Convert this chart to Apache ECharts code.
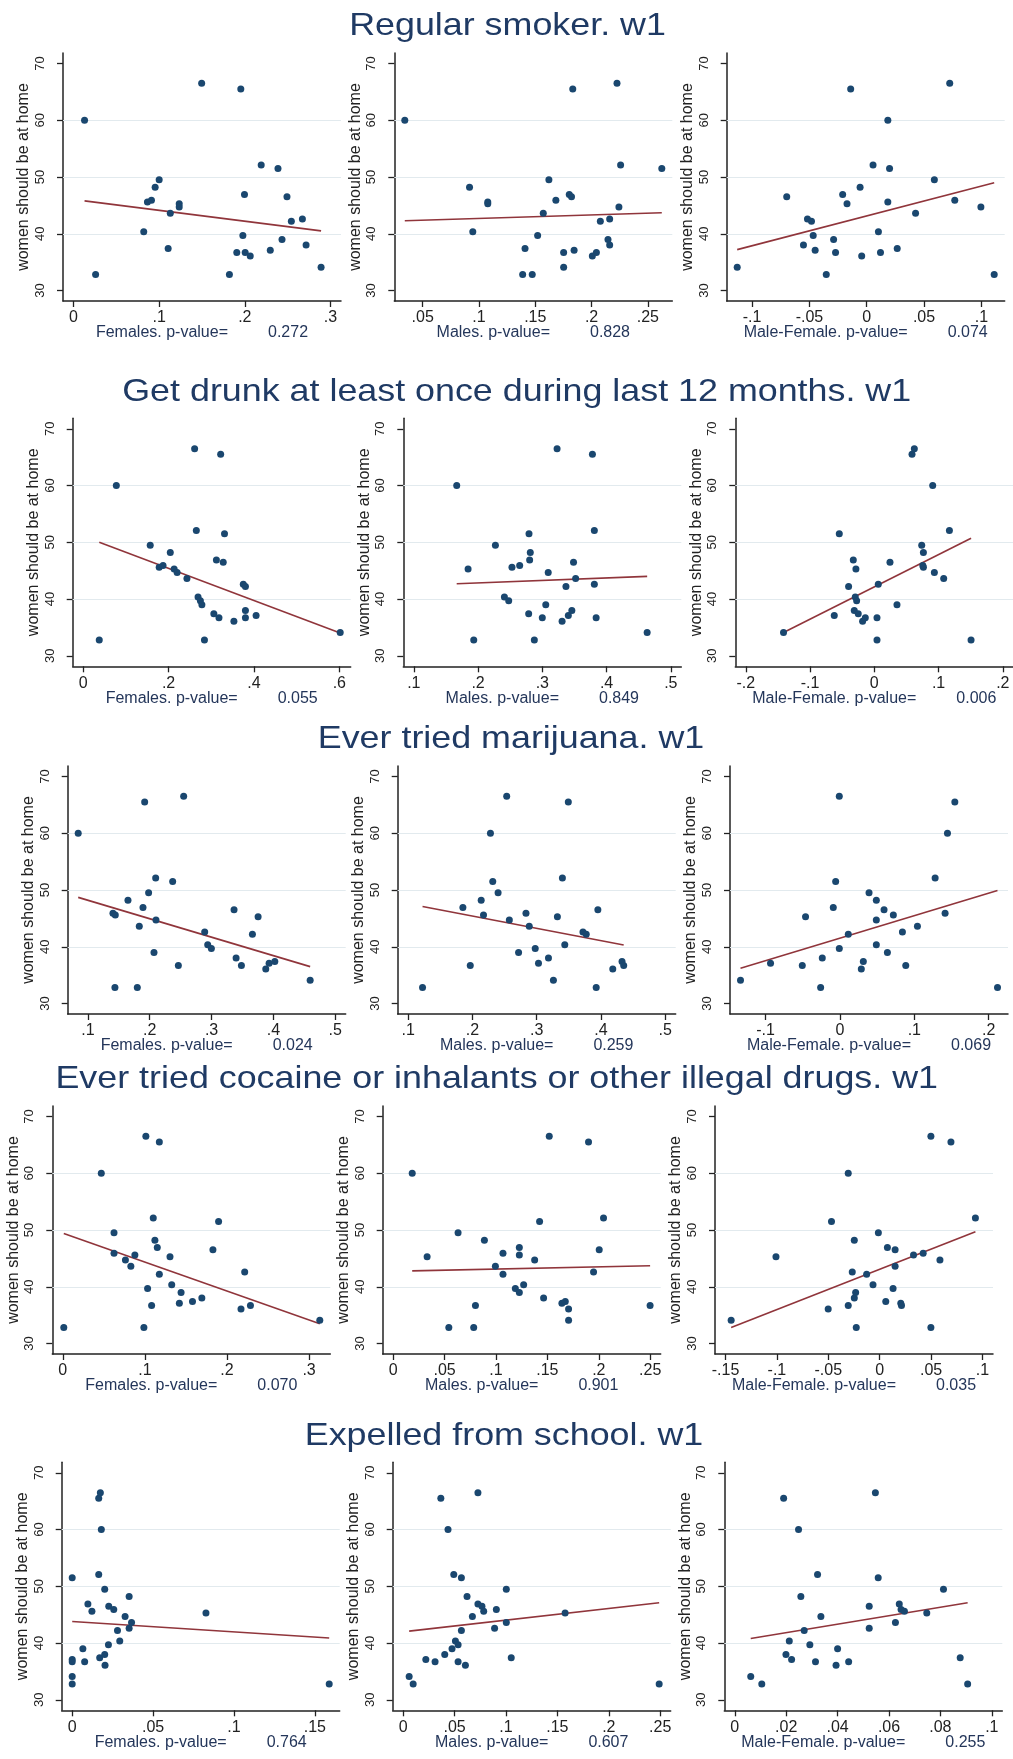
<!DOCTYPE html>
<html>
<head>
<meta charset="utf-8">
<title>women should be at home - scatter panels</title>
<script src="https://cdn.jsdelivr.net/npm/echarts@6/dist/echarts.min.js"></script>
<style>
  html, body { margin: 0; padding: 0; background: #fff; }
  #chart { width: 1013px; height: 1759px; }
</style>
</head>
<body>
<div id="chart"></div>
<script>
// y = "women should be at home", x = share of each behaviour (Females / Males / Male-Female)
var titles = [
  'Regular smoker. w1',
  'Get drunk at least once during last 12 months. w1',
  'Ever tried marijuana. w1',
  'Ever tried cocaine or inhalants or other illegal drugs. w1',
  'Expelled from school. w1'
];
var groups = ['Females', 'Males', 'Male-Female'];
var yTickLabels = ['30', '40', '50', '60', '70'];
var yGridValues = [40, 50, 60];

// ---- Regular smoker
var smokerF = [[.0129,60.0],[.0258,32.8],[.082,40.35],[.0863,45.6],[.091,45.9],[.0953,48.2],[.1,49.5],[.1105,37.4],[.113,43.6],[.1234,45.3],[.1234,44.7],[.1496,66.5],[.182,32.8],[.1906,36.7],[.1953,65.5],[.1977,39.7],[.1996,46.9],[.2004,36.7],[.2063,36.1],[.2191,52.1],[.2297,37.1],[.2387,51.5],[.2434,39.0],[.2492,46.5],[.2543,42.2],[.2672,42.6],[.2715,38.0],[.289,34.1]];
var smokerM = [[.0341,60.0],[.0916,48.2],[.0945,40.35],[.1078,45.6],[.1078,45.3],[.1409,37.4],[.1388,32.8],[.1473,32.8],[.1521,39.7],[.1571,43.6],[.1621,49.5],[.1683,45.9],[.1752,36.7],[.1752,34.1],[.1802,46.9],[.1822,46.5],[.1833,65.5],[.1845,37.1],[.2007,36.1],[.2043,36.7],[.2078,42.2],[.2146,39.0],[.2161,38.0],[.2161,42.6],[.2226,66.5],[.2243,44.7],[.2258,52.1],[.2624,51.5]];
var smokerD = [[-.113,34.1],[-.0698,46.5],[-.0552,38.0],[-.0517,42.6],[-.0482,42.2],[-.0467,39.7],[-.045,37.1],[-.0353,32.8],[-.0289,39.0],[-.0272,36.7],[-.021,46.9],[-.0172,45.3],[-.014,65.5],[-.0058,48.2],[-.0044,36.1],[.0055,52.1],[.0102,40.35],[.012,36.7],[.0184,60.0],[.0184,45.6],[.0199,51.5],[.0266,37.4],[.0426,43.6],[.059,49.5],[.0724,66.5],[.0768,45.9],[.0996,44.7],[.1112,32.8]];
var fitSmoker = [[.0129,45.8,.289,40.5],[.0341,42.3,.2624,43.7],[-.113,37.2,.1112,49.0]];
var xTicksSmoker = [['0','.1','.2','.3'],['.05','.1','.15','.2','.25'],['-.1','-.05','0','.05','.1']];
var pSmoker = ['0.272','0.828','0.074'];

// ---- Get drunk
var drunkF = [[.0376,32.8],[.0776,60.0],[.157,49.5],[.178,45.6],[.187,45.9],[.204,48.2],[.213,45.3],[.220,44.7],[.243,43.6],[.261,66.5],[.265,52.1],[.269,40.35],[.2745,39.7],[.278,39.0],[.284,32.8],[.306,37.4],[.312,46.9],[.318,36.7],[.322,65.5],[.328,46.5],[.331,51.5],[.353,36.1],[.375,42.6],[.380,42.2],[.380,38.0],[.380,36.7],[.405,37.1],[.602,34.1]];
var drunkM = [[.1668,60.0],[.1845,45.3],[.1933,32.8],[.227,49.5],[.241,40.35],[.2477,39.7],[.2528,45.6],[.2648,45.9],[.2788,37.4],[.2793,51.5],[.2813,48.2],[.2803,46.9],[.2876,32.8],[.3,36.7],[.3054,39.0],[.3092,44.7],[.323,66.5],[.3308,36.1],[.3368,42.2],[.3405,37.1],[.346,38.0],[.3486,46.5],[.3519,43.6],[.378,65.5],[.381,52.1],[.381,42.6],[.3838,36.7],[.4632,34.1]];
var drunkD = [[-.1413,34.1],[-.0623,37.1],[-.0545,51.5],[-.04,42.2],[-.0327,46.9],[-.0286,45.3],[-.0296,40.35],[-.0275,39.7],[-.0312,38.0],[-.025,37.4],[-.0182,36.1],[-.014,36.7],[.0042,36.7],[.0042,32.8],[.0062,42.6],[.0244,46.5],[.0353,39.0],[.0587,65.5],[.0623,66.5],[.0738,49.5],[.0764,48.2],[.0764,45.6],[.0755,45.9],[.0909,60.0],[.0935,44.7],[.108,43.6],[.1169,52.1],[.1506,32.8]];
var fitDrunk = [[.0376,50.0,.602,34.0],[.1668,42.7,.4632,44.0],[-.1413,34.1,.1506,50.7]];
var xTicksDrunk = [['0','.2','.4','.6'],['.1','.2','.3','.4','.5'],['-.2','-.1','0','.1','.2']];
var pDrunk = ['0.055','0.849','0.006'];

// ---- Marijuana
var marijF = [[.0843,60.0],[.1437,32.8],[.1405,45.9],[.1443,45.6],[.1648,48.2],[.1799,32.8],[.1831,43.6],[.1891,46.9],[.1918,65.5],[.1982,49.5],[.2069,39.0],[.2096,52.1],[.2101,44.7],[.2371,51.5],[.2463,36.7],[.2549,66.5],[.2889,42.6],[.2938,40.35],[.2997,39.7],[.3364,46.5],[.3397,38.0],[.3483,36.7],[.3661,42.2],[.3753,45.3],[.3877,36.1],[.3931,37.1],[.4023,37.4],[.4595,34.1]];
var marijM = [[.1223,32.8],[.1851,46.9],[.1966,36.7],[.2136,48.2],[.2172,45.6],[.228,60.0],[.2316,51.5],[.2399,49.5],[.2533,66.5],[.2574,44.7],[.2718,39.0],[.2833,45.9],[.2884,43.6],[.2977,39.7],[.3028,37.1],[.3183,38.0],[.326,34.1],[.3322,45.3],[.34,52.1],[.3437,40.35],[.3492,65.5],[.372,42.6],[.3771,42.2],[.3926,32.8],[.3952,46.5],[.4184,36.1],[.4328,37.4],[.4354,36.7]];
var marijD = [[-.1338,34.1],[-.0934,37.1],[-.0507,36.7],[-.0463,45.3],[-.026,32.8],[-.0238,38.0],[-.009,46.9],[-.0058,51.5],[-.0009,66.5],[-.0009,39.7],[.0112,42.2],[.0287,36.1],[.0314,37.4],[.0391,49.5],[.0489,48.2],[.0489,44.7],[.0489,40.35],[.0593,46.5],[.0638,39.0],[.0718,45.6],[.084,42.6],[.0885,36.7],[.1042,43.6],[.128,52.1],[.1414,45.9],[.1446,60.0],[.1545,65.5],[.2119,32.8]];
var fitMarij = [[.0843,48.7,.4595,36.5],[.1223,47.1,.4354,40.3],[-.1338,36.2,.2119,49.9]];
var xTicksMarij = [['.1','.2','.3','.4','.5'],['.1','.2','.3','.4','.5'],['-.1','0','.1','.2']];
var pMarij = ['0.024','0.259','0.069'];

// ---- Cocaine / inhalants / other drugs
var drugsF = [[.0012,32.8],[.0469,60.0],[.0624,49.5],[.0624,45.9],[.0763,44.7],[.0829,43.6],[.0878,45.6],[.0988,32.8],[.1012,66.5],[.1033,39.7],[.1082,36.7],[.1102,52.1],[.1122,48.2],[.1151,46.9],[.1176,65.5],[.1176,42.2],[.1306,45.3],[.1327,40.35],[.1441,39.0],[.142,37.1],[.158,37.4],[.1694,38.0],[.1829,46.5],[.1898,51.5],[.2171,36.1],[.2216,42.6],[.2286,36.7],[.3131,34.1]];
var drugsM = [[.0185,60.0],[.033,45.3],[.0541,32.8],[.0631,49.5],[.0783,32.8],[.08,36.7],[.0887,48.2],[.0994,43.6],[.1068,45.9],[.1068,42.2],[.1188,39.7],[.1227,39.0],[.1227,46.9],[.1227,45.6],[.1269,40.35],[.1376,44.7],[.1424,51.5],[.1463,38.0],[.1518,66.5],[.1641,37.1],[.1674,37.4],[.1706,36.1],[.1706,34.1],[.19,65.5],[.1949,42.6],[.2004,46.5],[.2046,52.1],[.2499,36.7]];
var drugsD = [[-.1445,34.1],[-.1009,45.3],[-.0501,36.1],[-.0469,51.5],[-.0306,60.0],[-.0306,36.7],[-.0267,42.6],[-.0247,48.2],[-.0247,38.0],[-.0234,39.0],[-.0228,32.8],[-.0127,42.2],[-.0065,40.35],[-.0013,49.5],[.0059,37.4],[.0075,46.9],[.015,46.5],[.013,39.7],[.015,43.6],[.0205,37.1],[.0212,36.7],[.0329,45.6],[.0423,45.9],[.0498,66.5],[.0498,32.8],[.0586,44.7],[.0693,65.5],[.0931,52.1]];
var fitDrugs = [[.0012,49.4,.3131,33.5],[.0185,42.8,.2499,43.7],[-.1445,32.8,.0931,49.7]];
var xTicksDrugs = [['0','.1','.2','.3'],['0','.05','.1','.15','.2','.25'],['-.15','-.1','-.05','0','.05','.1']];
var pDrugs = ['0.070','0.901','0.035'];

// ---- Expelled from school
var expelF = [[0,51.5],[0,37.1],[0,36.7],[0,34.1],[0,32.8],[.0066,39.0],[.0077,36.7],[.0097,46.9],[.0122,45.6],[.0164,52.1],[.0164,65.5],[.0174,66.5],[.017,37.4],[.018,60.0],[.0201,49.5],[.0201,38.0],[.0203,36.1],[.0224,39.7],[.0226,46.5],[.0257,45.9],[.028,42.2],[.0294,40.35],[.0327,44.7],[.0352,48.2],[.0352,42.6],[.0367,43.6],[.0827,45.3],[.1589,32.8]];
var expelM = [[.0058,34.1],[.0097,32.8],[.022,37.1],[.031,36.7],[.0366,65.5],[.0404,38.0],[.0436,60.0],[.0475,39.0],[.0492,52.1],[.0508,40.35],[.0534,39.7],[.0534,36.7],[.0566,51.5],[.0566,42.2],[.0605,36.1],[.0621,48.2],[.0673,44.7],[.0727,66.5],[.0727,46.9],[.0766,46.5],[.0783,45.6],[.0906,45.9],[.0889,42.6],[.1003,49.5],[.1003,43.6],[.1051,37.4],[.1575,45.3],[.249,32.8]];
var expelD = [[.0062,34.1],[.0105,32.8],[.019,65.5],[.0199,38.0],[.0212,40.35],[.0221,37.1],[.0248,60.0],[.0257,48.2],[.027,42.2],[.0292,39.7],[.0314,36.7],[.0322,52.1],[.0335,44.7],[.0394,36.1],[.04,39.0],[.0443,36.7],[.0523,46.5],[.0523,42.6],[.0547,66.5],[.0558,51.5],[.0625,43.6],[.064,46.9],[.0647,45.9],[.066,45.6],[.0747,45.3],[.0812,49.5],[.0877,37.4],[.0906,32.8]];
var fitExpel = [[0,43.8,.1589,40.9],[.0058,42.1,.249,47.1],[.0062,40.8,.0906,47.1]];
var xTicksExpel = [['0','.05','.1','.15'],['0','.05','.1','.15','.2','.25'],['0','.02','.04','.06','.08','.1']];
var pExpel = ['0.764','0.607','0.255'];

var rows = [
  { points: [smokerF, smokerM, smokerD], fit: fitSmoker, ticks: xTicksSmoker, p: pSmoker },
  { points: [drunkF, drunkM, drunkD], fit: fitDrunk, ticks: xTicksDrunk, p: pDrunk },
  { points: [marijF, marijM, marijD], fit: fitMarij, ticks: xTicksMarij, p: pMarij },
  { points: [drugsF, drugsM, drugsD], fit: fitDrugs, ticks: xTicksDrugs, p: pDrugs },
  { points: [expelF, expelM, expelD], fit: fitExpel, ticks: xTicksExpel, p: pExpel }
];

// layout (px)
var rowTop = [53, 418.3, 766, 1106, 1462.3];
var panelLeft = [[63, 394.3, 726.7], [72.7, 403.3, 735.3], [67.7, 397.7, 730], [52.3, 382.7, 715], [61.7, 392.7, 724.3]];
var titleX = [507.5, 516.7, 511, 496.7, 504];
var titleY = [25.7, 391.7, 739, 1079, 1435.7];
var PANEL_W = 278, PANEL_H = 248, PAD = 10.5;
var FONT = '"Liberation Sans", Arial, sans-serif';
var NAVY = '#1a476f', MAROON = '#90353b', INK = '#222222', TITLE = '#1f3a64';

// stata-like range: union of data and ticks, plus a fixed pixel margin
function padRange(vals, len) {
  var lo = Math.min.apply(null, vals), hi = Math.max.apply(null, vals);
  var upp = (hi - lo) / (len - 2 * PAD);
  return [lo - PAD * upp, hi + PAD * upp];
}

var grids = [], xAxes = [], yAxes = [], series = [], graphics = [];
var yTickVals = yTickLabels.map(parseFloat);

rows.forEach(function (row, r) {
  graphics.push({
    type: 'text', x: titleX[r], y: titleY[r], scaleX: 1.12,
    style: { text: titles[r], fontSize: 32, fontFamily: FONT, fill: TITLE, textAlign: 'center', textVerticalAlign: 'middle' }
  });
  for (var c = 0; c < 3; c++) {
    var idx = r * 3 + c;
    var pts = row.points[c];
    var tickLabels = row.ticks[c];
    var tickVals = tickLabels.map(parseFloat);
    var xr = padRange(pts.map(function (d) { return d[0]; }).concat(tickVals), PANEL_W);
    var yr = padRange(pts.map(function (d) { return d[1]; }).concat(yTickVals), PANEL_H);
    var f = row.fit[c];

    grids.push({ left: panelLeft[r][c], top: rowTop[r], width: PANEL_W, height: PANEL_H, containLabel: false, outerBoundsMode: 'none' });

    xAxes.push({
      gridIndex: idx, type: 'value', min: xr[0], max: xr[1],
      axisLine: { onZero: false, lineStyle: { color: INK, width: 1.5 } },
      axisTick: { show: true, customValues: tickVals, length: 6, lineStyle: { color: INK, width: 1.3 } },
      axisLabel: {
        customValues: tickVals, margin: 9, fontSize: 16, color: INK, fontFamily: FONT,
        formatter: (function (vals, labs) {
          return function (v) {
            for (var i = 0; i < vals.length; i++) if (Math.abs(vals[i] - v) < 1e-9) return labs[i];
            return '';
          };
        })(tickVals, tickLabels)
      },
      splitLine: { show: false },
      name: groups[c] + '. p-value=         ' + row.p[c],
      nameLocation: 'middle', nameGap: 24, nameMoveOverlap: false,
      nameTextStyle: { fontSize: 16, color: '#24365a', fontFamily: FONT }
    });

    yAxes.push({
      gridIndex: idx, type: 'value', min: yr[0], max: yr[1],
      axisLine: { onZero: false, lineStyle: { color: INK, width: 1.5 } },
      axisTick: { show: true, customValues: yTickVals, length: 6, lineStyle: { color: INK, width: 1.3 } },
      axisLabel: { customValues: yTickVals, rotate: 90, margin: 16, fontSize: 13, color: INK, fontFamily: FONT },
      splitLine: { show: false },
      name: 'women should be at home',
      nameLocation: 'middle', nameGap: 31, nameMoveOverlap: false,
      nameTextStyle: { fontSize: 16, color: INK, fontFamily: FONT }
    });

    // faint horizontal grid lines, kept behind everything
    series.push({
      type: 'line', xAxisIndex: idx, yAxisIndex: idx, data: [], z: 1, silent: true,
      markLine: {
        z: 1, silent: true, symbol: ['none', 'none'], label: { show: false },
        lineStyle: { color: '#e2eaee', width: 1.2, type: 'solid' },
        data: yGridValues.map(function (v) { return { yAxis: v }; })
      }
    });
    // fitted line
    series.push({
      type: 'line', xAxisIndex: idx, yAxisIndex: idx, z: 8, silent: true,
      data: [[f[0], f[1]], [f[2], f[3]]],
      symbol: 'none', lineStyle: { color: MAROON, width: 1.6 }
    });
    // points
    series.push({
      type: 'scatter', xAxisIndex: idx, yAxisIndex: idx, z: 10,
      data: pts, symbol: 'circle', symbolSize: 7,
      itemStyle: { color: NAVY, opacity: 1 }
    });
  }
});

var chart = echarts.init(document.getElementById('chart'), null, { renderer: 'canvas' });
chart.setOption({
  animation: false,
  backgroundColor: '#ffffff',
  grid: grids,
  xAxis: xAxes,
  yAxis: yAxes,
  series: series,
  graphic: graphics
});
</script>
</body>
</html>
